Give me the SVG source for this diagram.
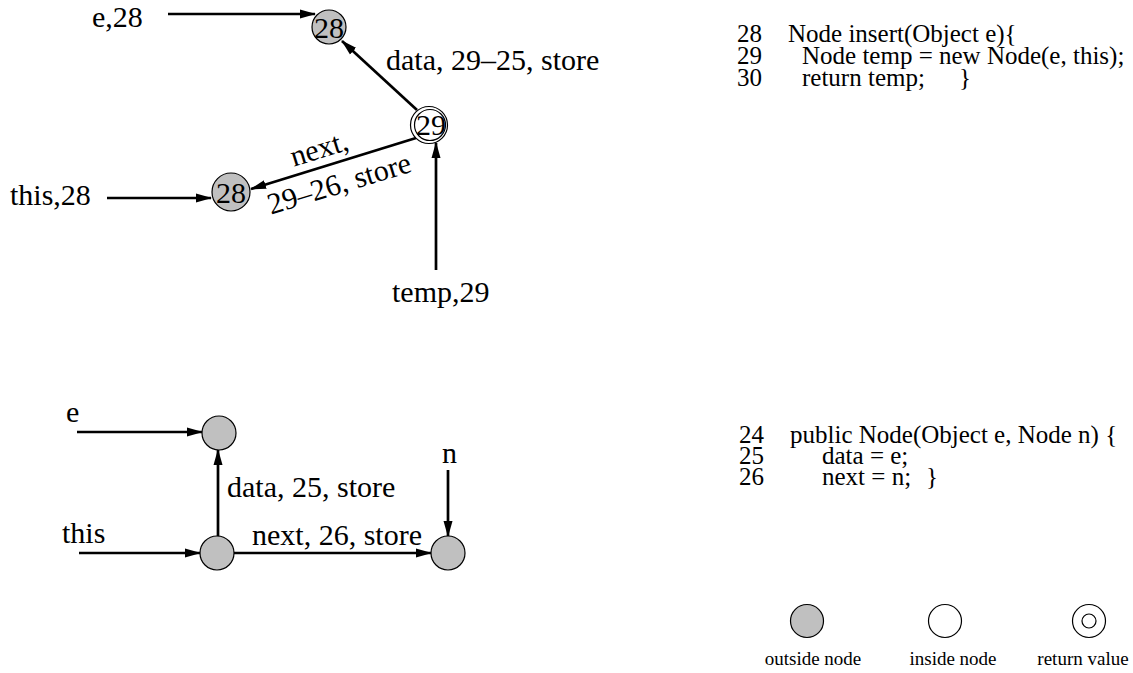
<svg xmlns="http://www.w3.org/2000/svg" width="1133" height="673" viewBox="0 0 1133 673">
<style>
text{font-family:"Liberation Serif","Times New Roman",serif;fill:#000}
.lbl{font-size:30px}
.code{font-size:25px}
.leg{font-size:19px}
.edge{stroke:#000;stroke-width:2.7;fill:none;marker-end:url(#ah)}
.out{fill:#c0c0c0;stroke:#000;stroke-width:1.2}
.in{fill:#fff;stroke:#000;stroke-width:1.2}
</style>
<defs>
<marker id="ah" markerWidth="16" markerHeight="10" refX="15" refY="5" orient="auto" markerUnits="userSpaceOnUse">
<path d="M0,0.5 L16,5 L0,9.5 Z" fill="#000"/>
</marker>
</defs>
<rect width="1133" height="673" fill="#fff"/>
<g id="connectors">
<line class="edge" x1="168" y1="14" x2="315" y2="14"/>
<line class="edge" x1="417" y1="110" x2="342" y2="41"/>
<line class="edge" x1="416" y1="138" x2="251" y2="189"/>
<line class="edge" x1="107" y1="198" x2="211" y2="198"/>
<line class="edge" x1="436" y1="270" x2="436" y2="143"/>
<line class="edge" x1="77" y1="432" x2="202" y2="432"/>
<line class="edge" x1="218" y1="537" x2="218" y2="450"/>
<line class="edge" x1="79" y1="553" x2="200" y2="553"/>
<line class="edge" x1="234" y1="553" x2="431" y2="553"/>
<line class="edge" x1="448" y1="470" x2="448" y2="536"/>
</g>
<g id="edge-labels">
<text class="lbl" x="92" y="27">e,28</text>
<text class="lbl" x="386" y="70">data, 29–25, store</text>
<text class="lbl" x="10" y="205">this,28</text>
<text class="lbl" x="392" y="302">temp,29</text>
<text class="lbl" transform="translate(322,158) rotate(-17)" text-anchor="middle">next,</text>
<text class="lbl" transform="translate(342,193) rotate(-17)" text-anchor="middle">29–26, store</text>
<text class="lbl" x="66" y="422">e</text>
<text class="lbl" x="227" y="497">data, 25, store</text>
<text class="lbl" x="62" y="543">this</text>
<text class="lbl" x="252" y="545">next, 26, store</text>
<text class="lbl" x="442" y="463">n</text>
</g>
<g id="node-top28">
<circle class="out" cx="329" cy="27" r="17"/>
<text class="lbl" x="329" y="38" text-anchor="middle">28</text>
</g>
<g id="node-29">
<circle class="in" cx="429" cy="125" r="18.5"/>
<circle class="in" cx="430" cy="125" r="15.5"/>
<text class="lbl" x="431" y="135" text-anchor="middle">29</text>
</g>
<g id="node-left28">
<circle class="out" cx="231" cy="192" r="19"/>
<text class="lbl" x="231" y="203" text-anchor="middle">28</text>
</g>
<g id="node-data">
<circle class="out" cx="219" cy="433" r="17"/>
</g>
<g id="node-this">
<circle class="out" cx="217" cy="553" r="17"/>
</g>
<g id="node-n">
<circle class="out" cx="448" cy="553" r="17"/>
</g>
<g id="code-insert" class="code">
<text x="737" y="42">28</text><text x="788" y="42">Node insert(Object e){</text>
<text x="737" y="64">29</text><text x="802" y="64">Node temp = new Node(e, this);</text>
<text x="737" y="86">30</text><text x="802" y="86">return temp;</text><text x="959" y="86">}</text>
</g>
<g id="code-node" class="code">
<text x="739" y="443">24</text><text x="790" y="443">public Node(Object e, Node n) {</text>
<text x="739" y="464">25</text><text x="822" y="464">data = e;</text>
<text x="739" y="485">26</text><text x="822" y="485">next = n;</text><text x="926" y="485">}</text>
</g>
<g id="legend">
<g id="legend-outside"><circle class="out" cx="807" cy="621" r="16.5"/><text class="leg" x="813" y="665" text-anchor="middle">outside node</text></g>
<g id="legend-inside"><circle class="in" cx="945" cy="621" r="16.5"/><text class="leg" x="953" y="665" text-anchor="middle">inside node</text></g>
<g id="legend-return"><circle class="in" cx="1089" cy="621" r="16.5"/><circle class="in" cx="1089" cy="621" r="7"/><text class="leg" x="1083" y="665" text-anchor="middle">return value</text></g>
</g>
</svg>
